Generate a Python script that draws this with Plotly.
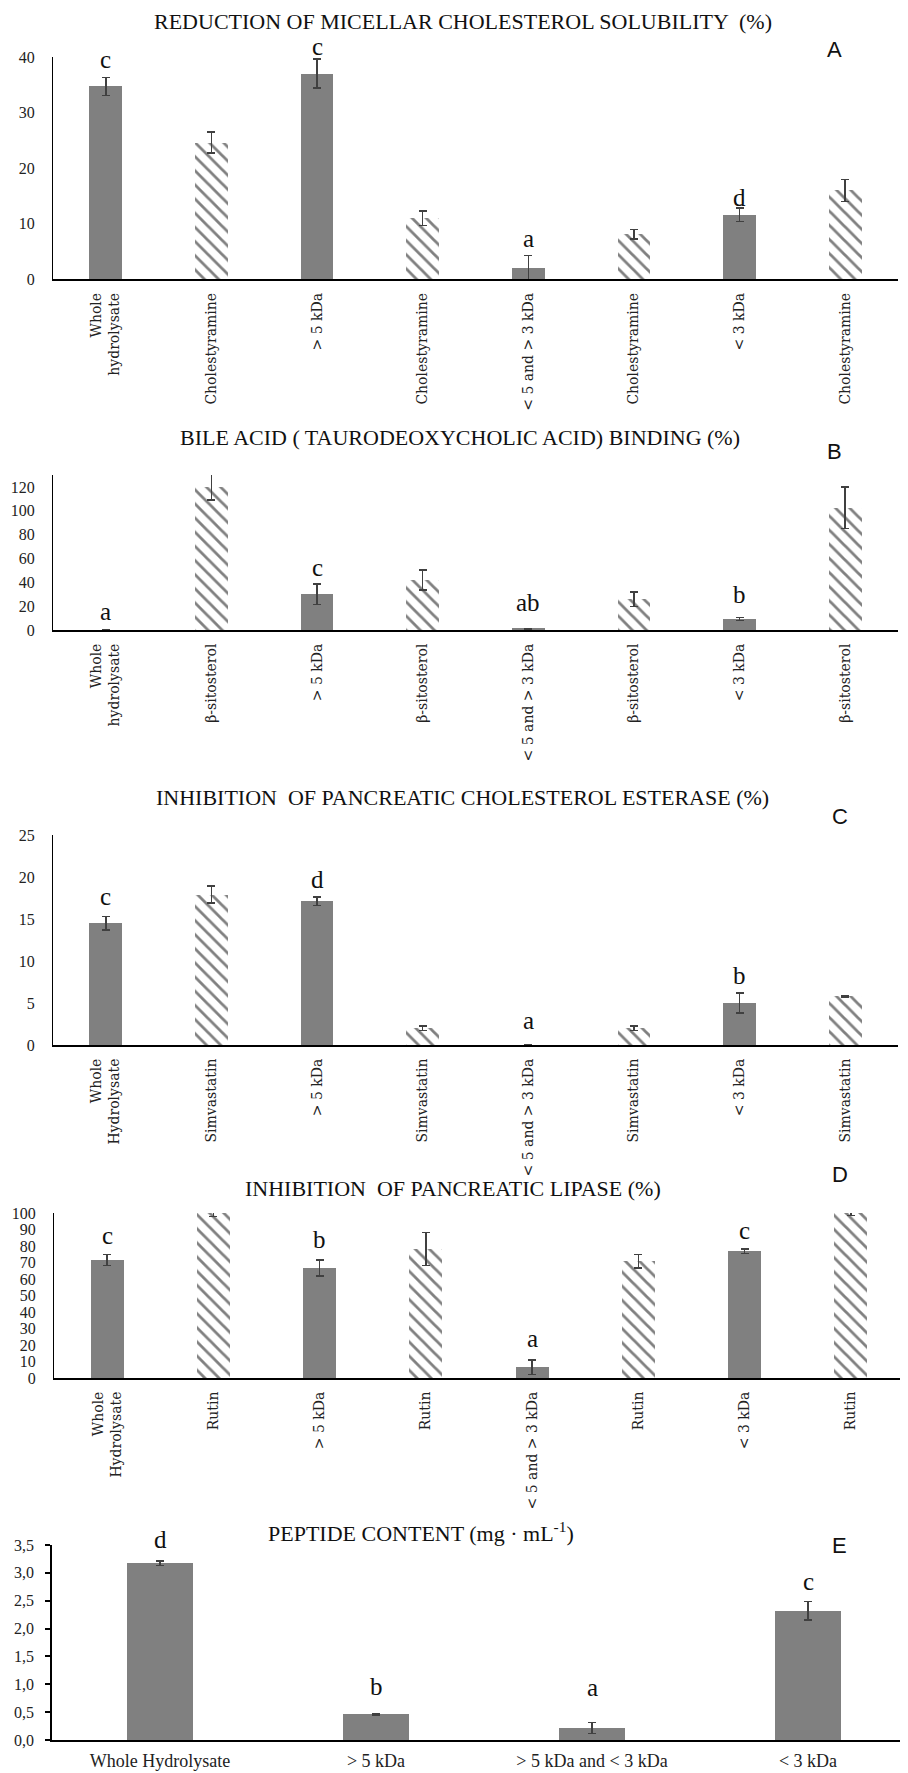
import plotly.graph_objects as go

W, H = 908, 1773
PAGE_MARGIN = 8  # default browser body margin shifts the figure by 8 px

# ---------------- data ----------------
labels_A = ["Whole<br>hydrolysate", "Cholestyramine", "&gt; 5 kDa", "Cholestyramine",
            "&lt; 5 and &gt; 3 kDa", "Cholestyramine", "&lt; 3 kDa", "Cholestyramine"]
values_A = [34.7, 24.6, 37.0, 11.0, 2.0, 8.1, 11.6, 16.0]
errors_A = [1.6, 1.9, 2.6, 1.3, 2.3, 0.85, 1.2, 2.0]
letters_A = ["c", "", "c", "", "a", "", "d", ""]
letter_y_A = [36.8, 0, 39.1, 0, 4.6, 0, 11.9, 0]

labels_B = ["Whole<br>hydrolysate", "β-sitosterol", "&gt; 5 kDa", "β-sitosterol",
            "&lt; 5 and &gt; 3 kDa", "β-sitosterol", "&lt; 3 kDa", "β-sitosterol"]
values_B = [0.0, 120.0, 30.0, 42.0, 1.0, 25.8, 9.3, 102.6]
errors_B = [0.0, 11.0, 8.4, 8.4, 0.0, 6.0, 1.3, 17.3]
letters_B = ["a", "", "c", "", "ab", "", "b", ""]
letter_y_B = [2.5, 0, 39.5, 0, 10.1, 0, 16.8, 0]

labels_C = ["Whole<br>Hydrolysate", "Simvastatin", "&gt; 5 kDa", "Simvastatin",
            "&lt; 5 and &gt; 3 kDa", "Simvastatin", "&lt; 3 kDa", "Simvastatin"]
values_C = [14.5, 17.9, 17.1, 2.0, 0.0, 2.0, 5.0, 5.8]
errors_C = [0.8, 1.0, 0.5, 0.25, 0.0, 0.25, 1.2, 0.1]
letters_C = ["c", "", "d", "", "a", "", "b", ""]
letter_y_C = [15.8, 0, 17.85, 0, 1.1, 0, 6.4, 0]

labels_D = ["Whole<br>Hydrolysate", "Rutin", "&gt; 5 kDa", "Rutin",
            "&lt; 5 and &gt; 3 kDa", "Rutin", "&lt; 3 kDa", "Rutin"]
values_D = [71.5, 100.0, 66.7, 78.2, 6.5, 70.7, 76.8, 100.0]
errors_D = [3.2, 2.0, 4.8, 10.0, 4.5, 4.0, 1.4, 1.5]
letters_D = ["c", "", "b", "", "a", "", "c", ""]
letter_y_D = [77.2, 0, 74.6, 0, 14.6, 0, 80.0, 0]

labels_E = ["Whole Hydrolysate", "&gt; 5 kDa", "&gt; 5 kDa and &lt; 3 kDa", "&lt; 3 kDa"]
values_E = [3.17, 0.46, 0.215, 2.32]
errors_E = [0.04, 0.015, 0.095, 0.17]
letters_E = ["d", "b", "a", "c"]
letter_y_E = [3.32, 0.68, 0.66, 2.57]
yticks_E = [0, 0.5, 1.0, 1.5, 2.0, 2.5, 3.0, 3.5]
yticktext_E = ["0,0", "0,5", "1,0", "1,5", "2,0", "2,5", "3,0", "3,5"]

titles = ["REDUCTION OF MICELLAR CHOLESTEROL SOLUBILITY  (%)",
          "BILE ACID ( TAURODEOXYCHOLIC ACID) BINDING (%)",
          "INHIBITION  OF PANCREATIC CHOLESTEROL ESTERASE (%)",
          "INHIBITION  OF PANCREATIC LIPASE (%)",
          "PEPTIDE CONTENT (mg · mL<sup>-1</sup>)"]
panel_tags = ["A", "B", "C", "D", "E"]

# ---------------- style / layout ----------------
GRAY = "#808080"
ERR = "#404040"
SERIF = "Liberation Serif"
LABSERIF = "DejaVu Serif"

def fy(p):
    return 1 - (p - PAGE_MARGIN) / H

def fx(p):
    return (p - PAGE_MARGIN) / W

panels = [
    dict(labels=labels_A, values=values_A, errors=errors_A, letters=letters_A, letter_y=letter_y_A,
         yrange=[0, 40], ytv=[0, 10, 20, 30, 40], ytt=None,
         xd=(53, 898), yd=(57, 279.3), title_xy=(463, 21), tag_xy=(834, 50), hatch=True),
    dict(labels=labels_B, values=values_B, errors=errors_B, letters=letters_B, letter_y=letter_y_B,
         yrange=[0, 130], ytv=[0, 20, 40, 60, 80, 100, 120], ytt=None,
         xd=(53, 898), yd=(475, 630), title_xy=(460, 437), tag_xy=(834, 452), hatch=True),
    dict(labels=labels_C, values=values_C, errors=errors_C, letters=letters_C, letter_y=letter_y_C,
         yrange=[0, 25], ytv=[0, 5, 10, 15, 20, 25], ytt=None,
         xd=(53, 898), yd=(835, 1045), title_xy=(463, 797), tag_xy=(840, 816), hatch=True),
    dict(labels=labels_D, values=values_D, errors=errors_D, letters=letters_D, letter_y=letter_y_D,
         yrange=[0, 100], ytv=list(range(0, 101, 10)), ytt=None,
         xd=(54, 904), yd=(1213, 1378), title_xy=(453, 1188), tag_xy=(840, 1174), hatch=True),
    dict(labels=labels_E, values=values_E, errors=errors_E, letters=letters_E, letter_y=letter_y_E,
         yrange=[0, 3.5], ytv=yticks_E, ytt=yticktext_E,
         xd=(52, 916), yd=(1545, 1740), title_xy=(421, 1532), tag_xy=(839, 1545), hatch=False),
]

fig = go.Figure()
annotations = []
layout_axes = {}

for i, p in enumerate(panels):
    n = i + 1
    xa = "x" if n == 1 else f"x{n}"
    ya = "y" if n == 1 else f"y{n}"
    xs = list(range(len(p["values"])))
    if p["hatch"]:
        solid_idx = [k for k in xs if k % 2 == 0]
        hatch_idx = [k for k in xs if k % 2 == 1]
    else:
        solid_idx = xs
        hatch_idx = []
    fig.add_trace(go.Bar(
        x=solid_idx, y=[p["values"][k] for k in solid_idx], width=0.31,
        marker=dict(color=GRAY, line=dict(width=0)),
        error_y=dict(type="data", array=[p["errors"][k] for k in solid_idx],
                     color=ERR, thickness=1.5, width=4),
        xaxis=xa, yaxis=ya, showlegend=False, hoverinfo="skip"))
    if hatch_idx:
        fig.add_trace(go.Bar(
            x=hatch_idx, y=[p["values"][k] for k in hatch_idx], width=0.31,
            marker=dict(color="white", line=dict(width=0),
                        pattern=dict(shape="\\", fgcolor=GRAY, bgcolor="white",
                                     size=10, solidity=0.28, fillmode="replace")),
            error_y=dict(type="data", array=[p["errors"][k] for k in hatch_idx],
                         color=ERR, thickness=1.5, width=4),
            xaxis=xa, yaxis=ya, showlegend=False, hoverinfo="skip"))

    nx = len(xs)
    if p["hatch"]:
        xaxis = dict(domain=[fx(p["xd"][0]), fx(p["xd"][1])], anchor=ya, automargin=False,
                     range=[-0.5, nx - 0.5], tickmode="array", tickvals=xs, ticktext=p["labels"],
                     tickangle=-90, tickfont=dict(family=LABSERIF, size=14, color="#222"),
                     showline=True, linecolor="black", linewidth=2, ticks="",
                     showgrid=False, zeroline=False, ticklabelstandoff=6, fixedrange=True)
        yaxis = dict(domain=[fy(p["yd"][1]), fy(p["yd"][0])], anchor=xa, range=p["yrange"],
                     automargin=False, tickmode="array", tickvals=p["ytv"],
                     tickfont=dict(family=SERIF, size=16, color="#222"),
                     showline=True, linecolor="black", linewidth=1, ticks="",
                     showgrid=False, zeroline=False, ticklabelstandoff=14)
    else:
        xaxis = dict(domain=[fx(p["xd"][0]), min(1.0, fx(p["xd"][1]))], anchor=ya, automargin=False,
                     range=[-0.5, (min(p["xd"][1], W + PAGE_MARGIN) - p["xd"][0]) / 216 - 0.5],
                     tickmode="array", tickvals=xs, ticktext=p["labels"], tickangle=0,
                     tickfont=dict(family=SERIF, size=18, color="#222"),
                     showline=True, linecolor="black", linewidth=2, ticks="",
                     showgrid=False, zeroline=False, ticklabelstandoff=3)
        yaxis = dict(domain=[fy(p["yd"][1]), fy(p["yd"][0])], anchor=xa, range=p["yrange"],
                     automargin=False, tickmode="array", tickvals=p["ytv"], ticktext=p["ytt"],
                     tickfont=dict(family=SERIF, size=16, color="#222"),
                     showline=True, linecolor="black", linewidth=1.5, ticks="outside",
                     ticklen=5, tickcolor="black", tickwidth=1.5,
                     showgrid=False, zeroline=False, ticklabelstandoff=8)
    layout_axes["xaxis" if n == 1 else f"xaxis{n}"] = xaxis
    layout_axes["yaxis" if n == 1 else f"yaxis{n}"] = yaxis

    # significance letters
    for k, (lt, ly) in enumerate(zip(p["letters"], p["letter_y"])):
        if lt:
            annotations.append(dict(x=k, y=ly, xref=xa, yref=ya, text=lt, showarrow=False,
                                    yanchor="bottom", xanchor="center",
                                    font=dict(family=SERIF, size=25, color="#111")))
    # title
    annotations.append(dict(x=fx(p["title_xy"][0]), y=fy(p["title_xy"][1]), xref="paper", yref="paper",
                            text=titles[i], showarrow=False, xanchor="center", yanchor="middle",
                            font=dict(family=SERIF, size=22, color="#111")))
    # panel tag
    annotations.append(dict(x=fx(p["tag_xy"][0]), y=fy(p["tag_xy"][1]), xref="paper", yref="paper",
                            text=panel_tags[i], showarrow=False, xanchor="center", yanchor="middle",
                            font=dict(family="Liberation Sans", size=22, color="#111")))

fig.update_layout(
    width=W, height=H, margin=dict(l=0, r=0, t=0, b=0, autoexpand=False),
    paper_bgcolor="white", plot_bgcolor="white", showlegend=False,
    bargap=0, annotations=annotations, **layout_axes)

fig.write_html("out.html")
